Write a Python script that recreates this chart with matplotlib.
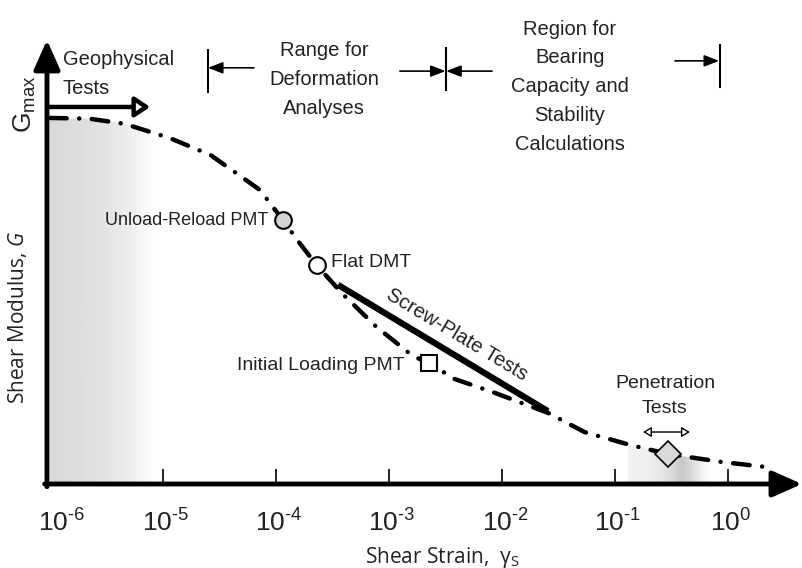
import matplotlib.pyplot as plt
import matplotlib.transforms as mtransforms
import numpy as np
from matplotlib.patches import PathPatch
from matplotlib.path import Path

plt.rcParams["font.family"] = ["Liberation Sans", "DejaVu Sans"]
plt.rcParams["mathtext.fontset"] = "custom"
plt.rcParams["mathtext.rm"] = "Open Sans"
plt.rcParams["mathtext.it"] = "Open Sans:italic"
plt.rcParams["lines.scale_dashes"] = False

# modulus reduction curve: G/Gmax against shear strain
strain = [1.0e-6, 2.24e-6, 4.57e-6, 1.15e-5, 2.63e-5, 7.24e-5, 1.15e-4,
          1.62e-4, 2.29e-4, 3.89e-4, 7.76e-4, 1.62e-3, 2.24e-3, 3.80e-3,
          8.3e-3, 2.57e-2, 5.37e-2, 0.135, 0.295, 0.89, 2.24]
g_ratio = [1.0, 0.998, 0.984, 0.945, 0.899, 0.803, 0.721,
           0.658, 0.598, 0.519, 0.429, 0.350, 0.331, 0.287,
           0.251, 0.194, 0.142, 0.107, 0.082, 0.060, 0.046]

# in-situ tests sitting on the curve
pmt_reload = (1.15e-4, 0.721)
flat_dmt = (2.29e-4, 0.598)
pmt_initial = (2.24e-3, 0.331)
penetration = (0.295, 0.082)

screw_plate_strain = [3.54e-4, 2.55e-2]
screw_plate_g = [0.544, 0.199]

decades = [1e-6, 1e-5, 1e-4, 1e-3, 1e-2, 1e-1, 1e0]
decade_labels = [r"$\mathregular{10^{\text{-}6}}$", r"$\mathregular{10^{\text{-}5}}$",
                 r"$\mathregular{10^{\text{-}4}}$", r"$\mathregular{10^{\text{-}3}}$",
                 r"$\mathregular{10^{\text{-}2}}$", r"$\mathregular{10^{\text{-}1}}$",
                 r"$\mathregular{10^{0}}$"]

fig = plt.figure(figsize=(8.03, 5.68), dpi=100)
ax = fig.add_axes([0.0585, 0.1479, 0.9402, 0.7817])
ax.set_xscale("log")
xlim = (10 ** -6.0265, 10 ** 0.655)
ylim = (0.0, 1.213)

# grey fades under the curve
under = PathPatch(Path(list(zip(strain, g_ratio)) + [(strain[-1], 0), (strain[0], 0)]),
                  transform=ax.transData, fc="none", ec="none")
ax.add_patch(under)
shade_small = ax.imshow(np.linspace(0.85, 1.0, 64)[None, :], cmap="gray", vmin=0, vmax=1,
                        extent=(xlim[0], 8.5e-6, 0, 1.05), aspect="auto",
                        interpolation="bilinear", zorder=0)
shade_small.set_clip_path(under)
shade_pen = ax.imshow(np.array([[0.94, 0.88, 0.78, 0.87, 0.95, 0.99, 1.0]]), cmap="gray",
                      vmin=0, vmax=1, extent=(0.130, 0.85, 0, 0.13), aspect="auto",
                      interpolation="bilinear", zorder=0)
shade_pen.set_clip_path(under)

ax.plot(strain, g_ratio, color="black", lw=3.2, dashes=(12, 9, 0.1, 9),
        dash_capstyle="round", zorder=2)
ax.plot(screw_plate_strain, screw_plate_g, color="black", lw=4.5,
        solid_capstyle="butt", zorder=3)

ax.plot(*pmt_reload, "o", ms=12, mfc="#d4d4d4", mec="black", mew=1.5, zorder=4)
ax.plot(*flat_dmt, "o", ms=12, mfc="white", mec="black", mew=1.5, zorder=4)
ax.plot(*pmt_initial, "s", ms=11, mfc="white", mec="black", mew=1.5, zorder=4)
ax.plot(*penetration, "D", ms=13, mfc="#d9d9d9", mec="black", mew=1.2, zorder=4)

lbl = dict(color="#222222")
ax.text(8.5e-5, 0.721, "Unload-Reload PMT", ha="right", va="center", fontsize=13, **lbl)
ax.text(3.07e-4, 0.604, "Flat DMT", ha="left", va="center", fontsize=14, **lbl)
ax.text(1.39e-3, 0.325, "Initial Loading PMT", ha="right", va="center", fontsize=14, **lbl)
ax.text(4.0e-3, 0.409, "Screw-Plate Tests", ha="center", va="center", fontsize=14.5,
        rotation=-31, rotation_mode="anchor", **lbl)
ax.text(0.277, 0.240, "Penetration\nTests", ha="center", va="center", fontsize=14,
        linespacing=1.6, **lbl)
ax.annotate("", xy=(0.461, 0.142), xytext=(0.177, 0.142),
            arrowprops=dict(arrowstyle="<|-|>,head_length=0.5,head_width=0.3",
                            lw=1.0, fc="white", ec="black", mutation_scale=10,
                            shrinkA=0, shrinkB=0))

# strain ranges along the top
hdr = dict(fontsize=14.5, color="#222222", linespacing=1.66)
ax.text(1.3e-6, 1.12, "Geophysical\nTests", ha="left", va="center", **hdr)
ax.annotate("", xy=(7.7e-6, 1.03), xytext=(xlim[0], 1.03),
            arrowprops=dict(arrowstyle="-|>,head_length=0.45,head_width=0.3",
                            lw=3.2, fc="white", ec="black", mutation_scale=20,
                            shrinkA=0, shrinkB=0))
ax.text(2.66e-4, 1.106, "Range for\nDeformation\nAnalyses", ha="center", va="center", **hdr)
ax.text(4.0e-2, 1.085, "Region for\nBearing\nCapacity and\nStability\nCalculations",
        ha="center", va="center", **hdr)

bracket = dict(arrowstyle="-|>,head_length=0.9,head_width=0.35", lw=1.2,
               fc="black", ec="black", mutation_scale=10, shrinkA=0, shrinkB=0)
for x, y0, y1 in [(2.5e-5, 1.071, 1.186), (3.19e-3, 1.077, 1.191), (0.849, 1.085, 1.199)]:
    ax.plot([x, x], [y0, y1], color="black", lw=1.5, clip_on=False)
ax.annotate("", xy=(2.5e-5, 1.137), xytext=(6.38e-5, 1.137), arrowprops=bracket)
ax.annotate("", xy=(3.17e-3, 1.128), xytext=(1.25e-3, 1.128), arrowprops=bracket)
ax.annotate("", xy=(3.21e-3, 1.128), xytext=(8.17e-3, 1.128), arrowprops=bracket)
ax.annotate("", xy=(0.835, 1.156), xytext=(0.340, 1.156), arrowprops=bracket)

# arrowed axes
ax_arrow = dict(arrowstyle="-|>,head_length=18,head_width=8", lw=3.5,
                fc="black", ec="black", mutation_scale=1, shrinkA=0, shrinkB=0)
ax.annotate("", xy=(1.0, 0.0), xytext=(-0.003, 0.0), xycoords="axes fraction",
            arrowprops=ax_arrow, annotation_clip=False)
ax.annotate("", xy=(0.0, 1.0), xytext=(0.0, -0.006), xycoords="axes fraction",
            arrowprops=ax_arrow, annotation_clip=False)

ax.set_xlim(*xlim)
ax.set_ylim(*ylim)
for s in ax.spines.values():
    s.set_visible(False)
ax.set_yticks([])
ax.set_xticks(decades)
ax.set_xticklabels(decade_labels, fontsize=19, color="#222222")
ax.xaxis.set_minor_locator(plt.NullLocator())
ax.tick_params(axis="x", direction="in", length=11, width=1.2, pad=18)
ax.xaxis.get_major_ticks()[0].tick1line.set_visible(False)
ax.set_axisbelow(False)

# decade labels sit a little right of their ticks; the first clears the axis
for i, label in enumerate(ax.get_xticklabels()):
    shift = 12 if i == 0 else 3
    label.set_transform(label.get_transform() +
                        mtransforms.ScaledTranslation(shift / 100, 0, fig.dpi_scale_trans))

fig.text(25 / 803, 1 - 104 / 568, r"G$_{\mathregular{max}}$", rotation=90,
         ha="center", va="center", fontsize=19, color="#222222")
fig.text(18 / 803, 1 - 317 / 568, r"Shear Modulus, $\mathit{G}$", rotation=90,
         ha="center", va="center", fontsize=15, family="Open Sans", color="#222222")
fig.text(443 / 803, 1 - 557 / 568, r"Shear Strain,  $\mathregular{γ_S}$",
         ha="center", va="center", fontsize=15, family="Open Sans", color="#222222")

fig.savefig("out.png", dpi=100)
